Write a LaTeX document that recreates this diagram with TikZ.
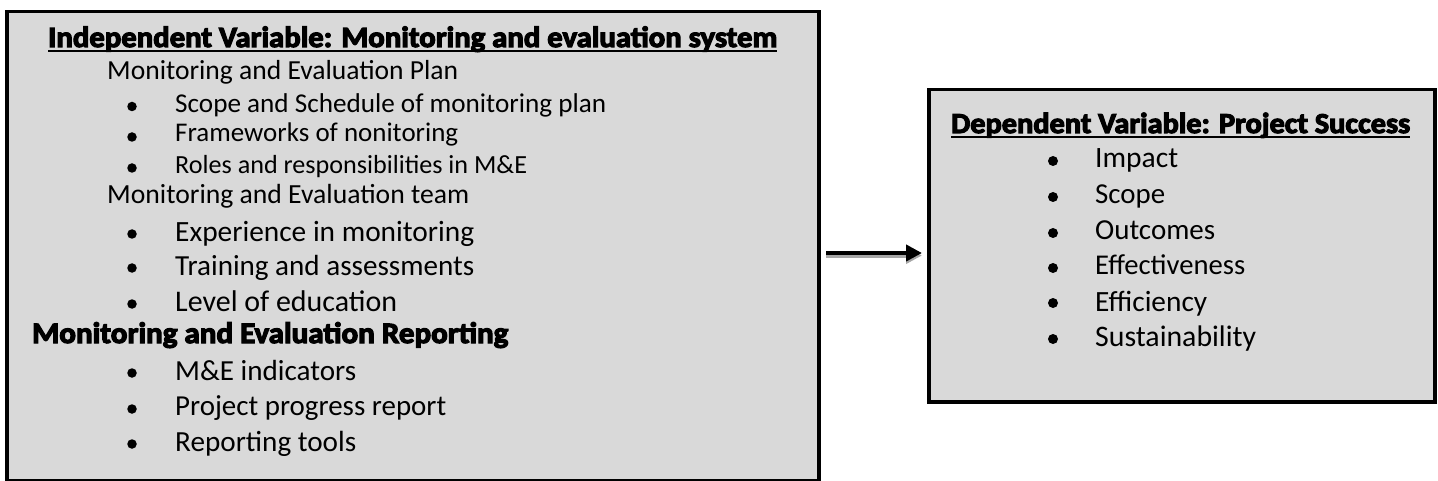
\documentclass[tikz,border=0pt]{standalone}
\usepackage{fontspec}
\usepackage{graphicx}
\usetikzlibrary{arrows.meta,shadows}
\newfontfamily\bodyf{Carlito}
\newfontfamily\headf{Carlito}[FakeStretch=1.05,BoldFeatures={FakeBold=4}]
\newcommand{\fitw}[2]{\resizebox{#1pt}{!}{#2}}
\begin{document}
\begin{tikzpicture}[x=1pt,y=-1pt,
  box/.style={draw=black,line width=3.5pt,fill=boxgray,anchor=north west,inner sep=0},
  txt/.style={anchor=base west,inner sep=0,font=\bodyf\fontsize{24}{28}\selectfont},
  head/.style={anchor=base west,inner sep=0,font=\headf\bfseries\fontsize{22}{26}\selectfont},
  dot/.style={circle,fill=black,inner sep=0,minimum size=9.5pt},
  uline/.style={line width=2pt},
]
\definecolor{boxgray}{HTML}{D9D9D9}
\useasboundingbox (0,0) rectangle (1438,481);
% boxes
\node[box,minimum width=812pt,minimum height=469pt] (ind) at (5,10) {};
\node[box,minimum width=506pt,minimum height=312pt,
  drop shadow={shadow xshift=2.5pt,shadow yshift=-2.5pt,opacity=0.4}] (dep) at (927,88) {};
% left heading
\node[head] (h1) at (48,47) {\fitw{729}{Independent Variable: Monitoring and evaluation system}};
\draw[uline] ([yshift=-4pt]h1.base west) -- ([yshift=-4pt]h1.base east);
\node[txt] (p1) at (107,80) {\fitw{351}{Monitoring and Evaluation Plan}};
\node[txt] (b1) at (175,113) {\fitw{431}{Scope and Schedule of monitoring plan}};
\node[txt] (b2) at (175,142) {\fitw{283}{Frameworks of nonitoring}};
\node[txt] (b3) at (175,174) {\fitw{352}{Roles and responsibilities in M\&E}};
\node[txt] (p2) at (107,204) {\fitw{362}{Monitoring and Evaluation team}};
\node[txt] (b4) at (175,241) {\fitw{299}{Experience in monitoring}};
\node[txt] (b5) at (175,275) {\fitw{299}{Training and assessments}};
\node[txt] (b6) at (175,311) {\fitw{222}{Level of education}};
\node[head] (p3) at (32,343) {\fitw{476}{Monitoring and Evaluation Reporting}};
\node[txt] (b7) at (175,380) {\fitw{181}{M\&E indicators}};
\node[txt] (b8) at (175,415) {\fitw{271}{Project progress report}};
\node[txt] (b9) at (175,451) {\fitw{181}{Reporting tools}};
\foreach \n/\y in {d1/106.5,d2/137,d3/168,d4/234,d5/268,d6/304,d7/373,d8/409,d9/444}
  \node[dot] (\n) at (132,\y) {};
% right heading
\node[head] (h2) at (951,133) {\fitw{459}{Dependent Variable: Project Success}};
\draw[uline] ([yshift=-4pt]h2.base west) -- ([yshift=-4pt]h2.base east);
\node[txt] (r1) at (1095,168) {\fitw{83}{Impact}};
\node[txt] (r2) at (1095,204) {\fitw{70}{Scope}};
\node[txt] (r3) at (1095,240) {\fitw{120}{Outcomes}};
\node[txt] (r4) at (1095,275) {\fitw{150}{Effectiveness}};
\node[txt] (r5) at (1095,311) {\fitw{112}{Efficiency}};
\node[txt] (r6) at (1095,346) {\fitw{161}{Sustainability}};
\foreach \n/\y in {e1/161,e2/197,e3/233,e4/268,e5/303,e6/339}
  \node[dot,minimum size=10pt] (\n) at (1053,\y) {};
% arrow
\coordinate (a0) at (826,253);
\draw[line width=4.5pt,-{Triangle[length=16pt,width=16pt]},shorten >=5pt,
  preaction={draw=black!35,line width=4.5pt,transform canvas={yshift=-2.5pt},-{Triangle[length=16pt,width=16pt]},shorten >=5pt}]
  (a0) -- (a0 -| dep.west);
\end{tikzpicture}
\end{document}
